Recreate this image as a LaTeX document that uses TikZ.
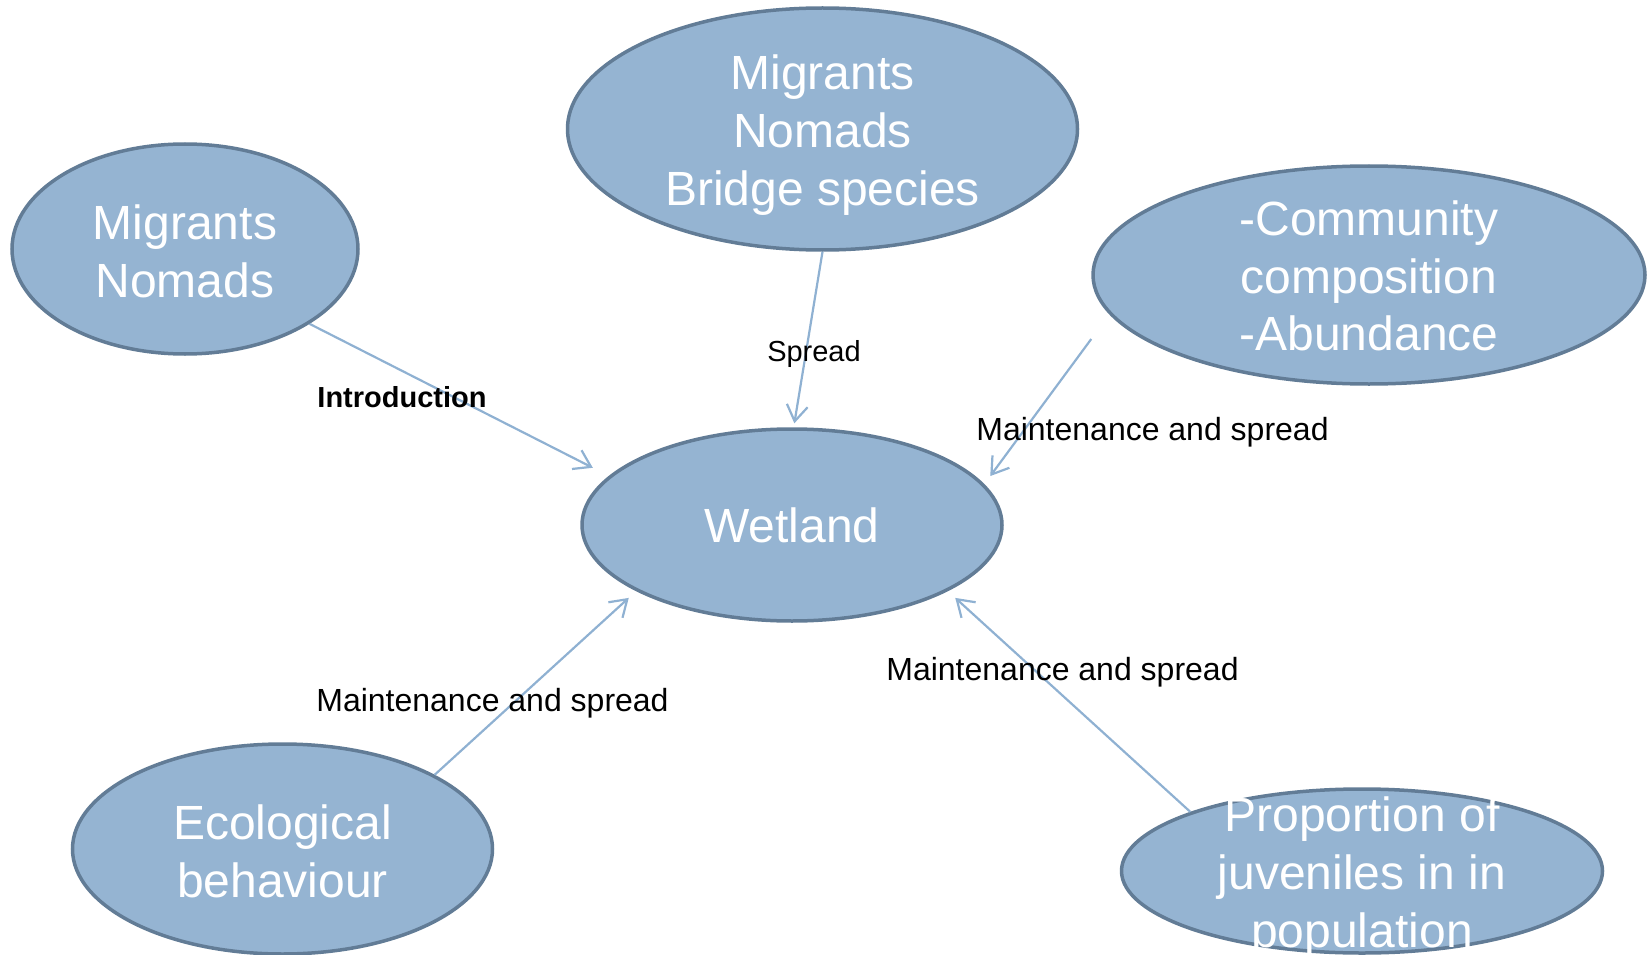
\documentclass[tikz,border=0pt]{standalone}
\usepackage{fontspec}
\setmainfont{Liberation Sans}
\usetikzlibrary{shapes.geometric,arrows.meta}
\definecolor{blobfill}{RGB}{149,180,210}
\definecolor{blobline}{RGB}{98,124,150}
\definecolor{linkcol}{RGB}{143,177,210}
\tikzset{
  blob/.style={ellipse,draw=blobline,line width=3.5pt,fill=blobfill,inner sep=0pt},
  blobtext/.style={text=white,font=\fontsize{48}{57.8}\selectfont,align=center},
  link/.style={draw=linkcol,line width=2.2pt,-{Straight Barb[length=16pt,width=21pt]}},
  lab/.style={font=\fontsize{32}{38}\selectfont},
  smalllab/.style={font=\fontsize{29}{35}\selectfont}
}
\begin{document}
\begin{tikzpicture}[x=1pt,y=-1pt]
\useasboundingbox (0,0) rectangle (1647,955);

\node [blob,minimum width=510pt,minimum height=242pt,label={[blobtext,yshift=-6pt]center:{Migrants\\Nomads\\Bridge species}}] (v1) at (822.5,129) {};
\node [blob,minimum width=346pt,minimum height=210pt,label={[blobtext,yshift=-2pt]center:{Migrants\\Nomads}}] (v2) at (185,249) {};
\node [blob,minimum width=552pt,minimum height=218pt,label={[blobtext,yshift=-1pt]center:{-Community\\composition\\-Abundance}}] (v3) at (1369,275) {};
\node [blob,minimum width=420pt,minimum height=192pt,label={[blobtext]center:{Wetland}}] (v4) at (792,525) {};
\node [blob,minimum width=420pt,minimum height=210pt,label={[blobtext,yshift=-2pt]center:{Ecological\\behaviour}}] (v5) at (282.5,849) {};
\node [blob,minimum width=481pt,minimum height=164pt,label={[blobtext,yshift=-6pt]center:{Proportion of\\juveniles in in\\population}}] (v6) at (1362,871) {};

\draw [link,shorten >=18pt] (v2.-31.4) -- (v4.165);
\draw [link,shorten >=4pt] (v1.south) -- (v4.89);
\draw [link,shorten >=10pt] ([yshift=-64pt]v3.west) -- (v4.12);
\draw [link,shorten >=10pt] (v5.26.7) -- (v4.203.4);
\draw [link,shorten >=10pt] (v6.161.1) -- (v4.-23);

\node [font=\fontsize{29}{35}\selectfont\bfseries] (l1) at (402,397) {Introduction};
\node [smalllab] (l2) at (814,354) {Spread};
\node [lab] (l3) at (1152.5,432) {Maintenance and spread};
\node [lab] (l4) at (492.5,703) {Maintenance and spread};
\node [lab] (l5) at (1062.5,672) {Maintenance and spread};
\end{tikzpicture}
\end{document}
